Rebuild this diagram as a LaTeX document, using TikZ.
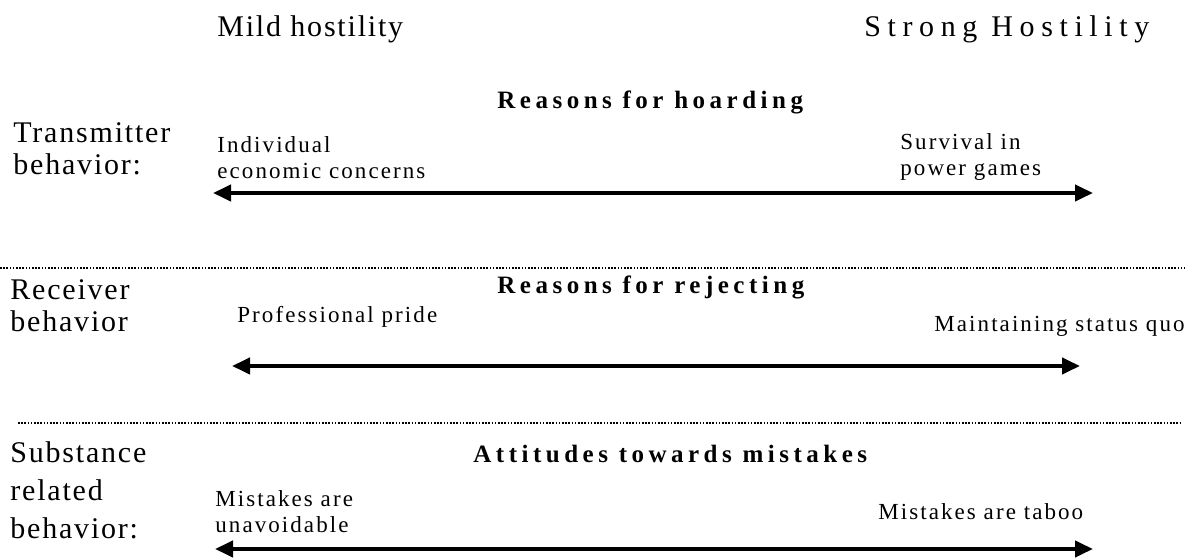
\documentclass[tikz,border=0pt]{standalone}
\usepackage{fontspec}
\setmainfont{Liberation Serif}
\newfontfamily\headfont[LetterSpace=6]{Liberation Serif}
\newfontfamily\wideheadfont[LetterSpace=22]{Liberation Serif}
\newfontfamily\notefont[LetterSpace=9]{Liberation Serif}
\newfontfamily\barfont[LetterSpace=18]{Liberation Serif}
\usetikzlibrary{arrows.meta}

\begin{document}
\begin{tikzpicture}[x=0.5pt, y=-0.5pt,
    head/.style={anchor=west, inner sep=0pt, align=left,
                 font=\headfont\fontsize{15}{16}\selectfont},
    note/.style={anchor=west, inner sep=0pt, align=left,
                 font=\notefont\fontsize{11.5}{13}\selectfont},
    bar/.style={anchor=west, inner sep=0pt,
                font=\barfont\bfseries\fontsize{12.5}{14}\selectfont},
    spectrum/.style={<->, line width=2pt, >={Triangle[length=9pt,width=8pt]}},
    sep/.style={line width=0.7pt, dash pattern=on 0.8pt off 0.8pt}
]
\useasboundingbox (0,0) rectangle (1195,560);
\node[head] (mild) at (217,29) {Mild hostility};
\node[head, font=\wideheadfont\fontsize{15}{16}\selectfont] (strong) at (864,29) {Strong Hostility};
% transmitter
\node[head] (trans) at (13,149) {Transmitter\\behavior:};
\node[bar] (hoard) at (497,102) {Reasons for hoarding};
\node[note] (indiv) at (217,158) {Individual\\economic concerns};
\node[note] (surv) at (900,157) {Survival in\\power games};
\coordinate (a1l) at (213,193);
\coordinate (a1r) at (1093,193);
\draw[spectrum] (a1l) -- (a1r);
\coordinate (d1l) at (0,268);
\coordinate (d1r) at (1185,268);
\draw[sep] (d1l) -- (d1r);
% receiver
\node[head] (recv) at (10,306) {Receiver\\behavior};
\node[bar] (reject) at (497,287) {Reasons for rejecting};
\node[note] (pride) at (237,317) {Professional pride};
\node[note, anchor=east] (quo) at (1185,326) {Maintaining status quo};
\coordinate (a2l) at (232,366);
\coordinate (a2r) at (1080,366);
\draw[spectrum] (a2l) -- (a2r);
\coordinate (d2l) at (18,423);
\coordinate (d2r) at (1180,423);
\draw[sep] (d2l) -- (d2r);
% substance
\node[head] (subst) at (10,490) {Substance\\[3pt]related\\[3pt]behavior:};
\node[bar] (attit) at (473,454) {Attitudes towards mistakes};
\node[note] (unav) at (215,512) {Mistakes are\\unavoidable};
\node[note] (taboo) at (878,512) {Mistakes are taboo};
\coordinate (a3l) at (215,549);
\coordinate (a3r) at (1093,549);
\draw[spectrum] (a3l) -- (a3r);
\end{tikzpicture}
\end{document}
